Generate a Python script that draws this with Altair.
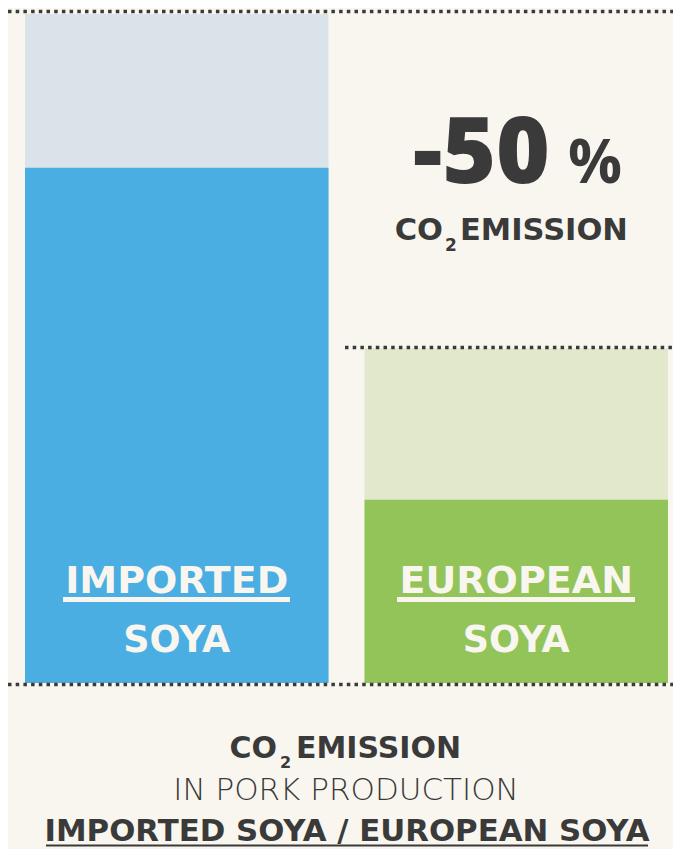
import altair as alt
import pandas as pd

# ---- data ----
categories = ["IMPORTED SOYA", "EUROPEAN SOYA"]
label_top = ["IMPORTED", "EUROPEAN"]
label_bottom = ["SOYA", "SOYA"]
total_emission = [100, 50]      # relative CO2 emission (imported = 100)
inner_share = [77, 27.4]        # darker inner part of each bar
reduction_text = "-50"

# ---- style ----
BG = "#f8f6ef"
DARK = "#3a3a3a"
LIGHT_COLORS = ["#d9e3e9", "#e1e8cb"]
DARK_COLORS = ["#4aaee2", "#93c45a"]
FONT = "DejaVu Sans"
FONT_BIG = "Open Sans"
W, H = 665, 841

df = pd.DataFrame({
    "cat": categories,
    "top": label_top,
    "bottom": label_bottom,
    "total": total_emission,
    "inner": inner_share,
})

xscale = alt.Scale(domain=categories, range=[17, 660], paddingInner=0.106, paddingOuter=0)
yscale = alt.Scale(domain=[0, 100], range=[675, 6])

X = alt.X("cat:N", scale=xscale, axis=None, sort=categories)

light = alt.Chart(df).mark_bar().encode(
    x=X,
    y=alt.Y("total:Q", scale=yscale, axis=None),
    color=alt.Color("cat:N", scale=alt.Scale(domain=categories, range=LIGHT_COLORS), legend=None),
)
darkbars = alt.Chart(df).mark_bar().encode(
    x=X,
    y=alt.Y("inner:Q", scale=yscale, axis=None),
    color=alt.Color("cat:N", scale=alt.Scale(domain=categories, range=DARK_COLORS), legend=None),
)

dash = dict(strokeDash=[3.5, 4.2], strokeWidth=3.3, color=DARK)
rule_top = alt.Chart(pd.DataFrame({"lvl": [total_emission[0]]})).mark_rule(yOffset=-2.5, **dash).encode(
    y=alt.Y("lvl:Q", scale=yscale, axis=None), x=alt.value(0), x2=alt.value(W))
rule_mid = alt.Chart(pd.DataFrame({"lvl": [total_emission[1]]})).mark_rule(yOffset=-1, **dash).encode(
    y=alt.Y("lvl:Q", scale=yscale, axis=None), x=alt.value(337), x2=alt.value(W))
rule_base = alt.Chart(pd.DataFrame({"lvl": [0]})).mark_rule(yOffset=1.5, **dash).encode(
    y=alt.Y("lvl:Q", scale=yscale, axis=None), x=alt.value(0), x2=alt.value(W))

bar_top_txt = alt.Chart(df).mark_text(font=FONT, fontSize=38, fontWeight="bold", color=BG,
                                      baseline="alphabetic", align="center").encode(
    x=X, y=alt.value(585), text="top:N")
bar_bot_txt = alt.Chart(df).mark_text(font=FONT, fontSize=36.5, fontWeight="bold", color=BG,
                                      baseline="alphabetic", align="center").encode(
    x=X, y=alt.value(644), text="bottom:N")


def txt(s, x, y, size, weight="bold", align="center", color=DARK, font=FONT):
    return alt.Chart(pd.DataFrame({"t": [s]})).mark_text(
        font=font, fontSize=size, fontWeight=weight, color=color,
        baseline="alphabetic", align=align).encode(
        x=alt.value(x), y=alt.value(y), text="t:N")


def uline(x1, x2, y, w, color):
    return alt.Chart(pd.DataFrame({"t": [0]})).mark_rule(color=color, strokeWidth=w).encode(
        x=alt.value(x1), x2=alt.value(x2), y=alt.value(y))


layers = [
    light, darkbars, rule_top, rule_mid, rule_base,
    bar_top_txt, bar_bot_txt,
    uline(55, 282, 591.5, 5, BG), uline(389, 627, 591.5, 5, BG),
    # -50 %
    txt(reduction_text, 542, 175, 92, weight=800, align="right", font=FONT_BIG),
    txt("%", 560, 175, 60, align="left", font=FONT_BIG),
    # CO2 EMISSION (right)
    txt("CO", 435, 232, 30.5, align="right"),
    txt("2", 443, 243, 17, align="center"),
    txt("EMISSION", 452, 232, 30.5, align="left"),
    # bottom caption
    txt("CO", 269, 750, 30, align="right"),
    txt("2", 277.5, 760, 16, align="center"),
    txt("EMISSION", 288, 750, 30, align="left"),
    txt("IN PORK PRODUCTION", 338, 792, 31, weight=200),
    txt("IMPORTED SOYA / EUROPEAN SOYA", 339, 833, 30.8),
    uline(38, 640, 837.5, 2, DARK),
]

chart = alt.layer(*layers).resolve_scale(color="independent").properties(
    width=W, height=H, padding=0, autosize=alt.AutoSizeParams(type="none"),
    background=BG,
).configure_view(stroke=None)

chart.save("out.html", embed_options={"renderer": "svg", "actions": False})
